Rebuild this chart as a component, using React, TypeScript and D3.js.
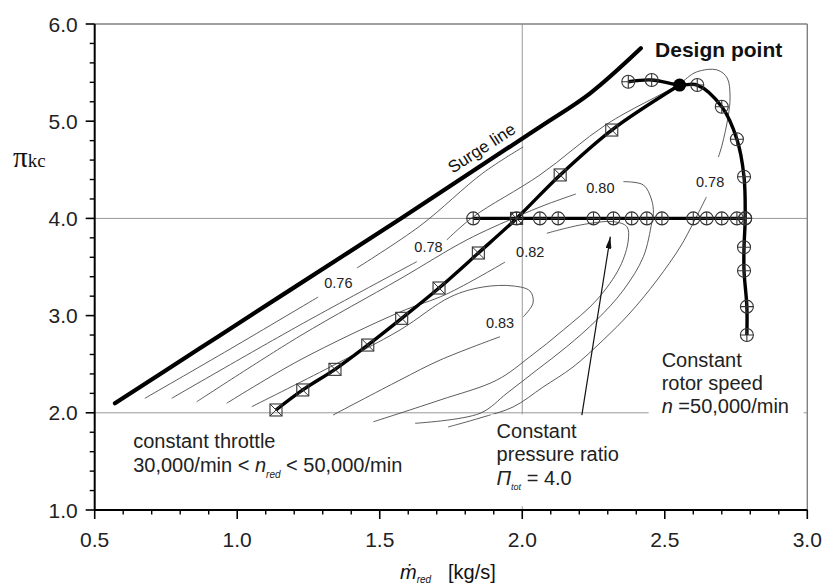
import React from "react";
import * as d3 from "d3";

type P = [number, number];

// ---------- axes ----------
const xTickValues = [0.5, 1.0, 1.5, 2.0, 2.5, 3.0];
const xTickLabels = ["0.5", "1.0", "1.5", "2.0", "2.5", "3.0"];
const yTickValues = [1.0, 2.0, 3.0, 4.0, 5.0, 6.0];
const yTickLabels = ["1.0", "2.0", "3.0", "4.0", "5.0", "6.0"];
const gridX = [2.0];
const gridY = [2.0, 4.0];

// ---------- characteristic lines ----------
const surgeLine: P[] = [
  [0.571, 2.098], [0.869, 2.663], [1.185, 3.262], [1.577, 4.004],
  [1.864, 4.56], [2.063, 4.943], [2.238, 5.287], [2.416, 5.75],
];
const throttlePoints: P[] = [
  [1.136, 2.029], [1.23, 2.235], [1.343, 2.447], [1.458, 2.697], [1.577, 2.972],
  [1.708, 3.284], [1.846, 3.644], [1.98, 4.0], [2.133, 4.447], [2.314, 4.909],
];
const designPoint: P = [2.552, 5.372];
const rotorBefore: P[] = [[2.372, 5.406], [2.454, 5.424]];
const rotorAfter: P[] = [
  [2.614, 5.372], [2.7, 5.149], [2.753, 4.814], [2.778, 4.429], [2.782, 4.0],
  [2.778, 3.703], [2.778, 3.462], [2.788, 3.092], [2.788, 2.8],
];
const pressureRatio = 4.0;
const pressureMassFlow = [
  1.828, 1.98, 2.062, 2.126, 2.25, 2.32, 2.384, 2.437, 2.49, 2.6, 2.647, 2.7, 2.753, 2.782,
];

// ---------- efficiency contours ----------
const eff76a: P[] = [[0.676, 2.149], [0.975, 2.656], [1.284, 3.191]];
const eff76b: P[] = [[1.42, 3.49], [1.641, 3.922], [1.862, 4.467], [2.003, 4.735]];
const eff78a: P[] = [[0.77, 2.149], [1.22, 2.903], [1.63, 3.555]];
const eff78b: P[] = [
  [1.735, 3.778], [1.827, 4.014], [2.062, 4.447], [2.296, 4.969], [2.545, 5.372],
  [2.611, 5.506], [2.684, 5.527], [2.719, 5.444], [2.729, 5.249], [2.722, 5.043],
  [2.701, 4.755], [2.688, 4.63],
];
const eff78c: P[] = [
  [2.646, 4.22], [2.6, 3.953], [2.554, 3.706], [2.473, 3.366], [2.378, 3.027],
  [2.284, 2.749], [2.178, 2.471], [2.073, 2.265], [1.968, 2.06], [1.852, 1.947], [1.74, 1.854],
];
const eff80a: P[] = [
  [0.858, 2.114], [1.22, 2.79], [1.571, 3.377], [1.805, 3.778], [1.981, 4.017],
  [2.08, 4.138], [2.188, 4.251],
];
const eff80b: P[] = [
  [2.355, 4.378], [2.425, 4.344], [2.454, 4.189], [2.46, 4.052], [2.454, 3.95],
  [2.425, 3.606], [2.355, 3.263], [2.261, 2.955], [2.156, 2.68], [2.051, 2.44],
  [1.946, 2.201], [1.852, 1.995], [1.624, 1.892],
];
const eff82a: P[] = [[0.963, 2.098], [1.22, 2.543], [1.571, 3.037], [1.735, 3.222], [1.94, 3.551]];
const eff82b: P[] = [
  [2.086, 3.847], [2.204, 3.932], [2.32, 3.966], [2.367, 3.915], [2.372, 3.778],
  [2.343, 3.503], [2.261, 3.16], [2.144, 2.852], [2.027, 2.577], [1.911, 2.337],
  [1.712, 2.132], [1.478, 1.908],
];
const eff83a: P[] = [
  [1.051, 2.063], [1.326, 2.471], [1.571, 2.852], [1.747, 3.191], [1.862, 3.294],
  [1.968, 3.305], [2.027, 3.253], [2.038, 3.13], [2.003, 2.986],
];
const eff83b: P[] = [[1.922, 2.783], [1.712, 2.543], [1.571, 2.337], [1.336, 1.977]];
const contours: P[][] = [
  eff76a, eff76b, eff78a, eff78b, eff78c, eff80a, eff80b, eff82a, eff82b, eff83a, eff83b,
];
const effLabelText = ["0.76", "0.78", "0.80", "0.82", "0.83", "0.78"];
const effLabelPos: P[] = [
  [1.355, 3.335], [1.671, 3.709], [2.274, 4.31], [2.028, 3.658], [1.922, 2.924], [2.659, 4.378],
];

// ---------- annotations ----------
const arrowTail: P = [2.209, 1.977];
const arrowTip: P = [2.309, 3.812];

const SANS = "'Liberation Sans', Arial, Helvetica, sans-serif";
const SERIF = "'Liberation Serif', 'Times New Roman', serif";

export default function App() {
  const x = d3.scaleLinear().domain([0.5, 3.0]).range([94.7, 807.3]);
  const y = d3.scaleLinear().domain([1.0, 6.0]).range([510, 24]);
  const smooth = d3
    .line<P>()
    .x((d) => x(d[0]))
    .y((d) => y(d[1]))
    .curve(d3.curveCatmullRom.alpha(0.5));
  const straight = d3
    .line<P>()
    .x((d) => x(d[0]))
    .y((d) => y(d[1]));

  const xMinor = d3.range(5, 31).map((i) => i / 10).filter((v) => !xTickValues.includes(v));
  const yMinor = d3.range(5, 31).filter((i) => i % 5 !== 0).map((i) => i / 5);

  const [x0, x1] = x.range();
  const [yb, yt] = y.range();

  const throttleLine = [...throttlePoints, designPoint];
  const rotorLine = [...rotorBefore, designPoint, ...rotorAfter];
  const rotorMarkers = [...rotorBefore, ...rotorAfter];
  const pressureLine: P[] = [
    [d3.min(pressureMassFlow)!, pressureRatio],
    [d3.max(pressureMassFlow)!, pressureRatio],
  ];

  const plus = (px: number, py: number, k: string) => (
    <g key={k} transform={`translate(${px},${py})`}>
      <circle r={6.5} fill="none" stroke="#333" strokeWidth={1.1} />
      <path d="M-6.5,0H6.5M0,-6.5V6.5" stroke="#333" strokeWidth={1.1} />
    </g>
  );
  const boxX = (px: number, py: number, k: string) => (
    <g key={k} transform={`translate(${px},${py})`}>
      <rect x={-6} y={-6} width={12} height={12} fill="none" stroke="#333" strokeWidth={1.1} />
      <path d="M-6,-6L6,6M-6,6L6,-6" stroke="#333" strokeWidth={1} />
    </g>
  );

  const xMid = (x0 + x1) / 2;
  const rotorTx = x(2.489);
  const rotorTy = y(2.468);
  const presTx = x(1.91);
  const presTy = y(1.738);

  return (
    <svg
      width={825}
      height={588}
      viewBox="0 0 825 588"
      style={{ position: "absolute", left: 0, top: 0, background: "#fff" }}
    >
      <defs>
        <marker
          id="ah"
          viewBox="0 0 12 6"
          refX={12}
          refY={3}
          markerWidth={12}
          markerHeight={6}
          markerUnits="userSpaceOnUse"
          orient="auto"
        >
          <path d="M0,0L12,3L0,6Z" fill="#111" />
        </marker>
      </defs>
      <rect x={0} y={0} width={825} height={588} fill="#fff" />

      {/* grid */}
      {gridX.map((v) => (
        <line key={"gx" + v} x1={x(v)} x2={x(v)} y1={yb} y2={yt} stroke="#999" strokeWidth={1} />
      ))}
      {gridY.map((v) => (
        <line key={"gy" + v} x1={x0} x2={x1} y1={y(v)} y2={y(v)} stroke="#999" strokeWidth={1} />
      ))}
      {/* frame */}
      <line x1={x0} x2={x1} y1={yt} y2={yt} stroke="#808080" strokeWidth={1.6} />
      <line x1={x1} x2={x1} y1={yt} y2={yb} stroke="#808080" strokeWidth={1.4} />

      {/* efficiency contours */}
      {contours.map((c, i) => (
        <path key={"c" + i} d={smooth(c)!} fill="none" stroke="#4a4a4a" strokeWidth={0.9} />
      ))}

      {/* text backgrounds */}
      <rect x={presTx - 6} y={y(2.0) + 1.5} width={136} height={92} fill="#fff" />
      <rect x={rotorTx - 13} y={rotorTy - 24} width={155} height={77} fill="#fff" />

      {/* thick lines */}
      <path d={smooth(surgeLine)!} fill="none" stroke="#000" strokeWidth={4.2} strokeLinecap="round" />
      <path d={smooth(throttleLine)!} fill="none" stroke="#000" strokeWidth={3.4} />
      <path d={smooth(rotorLine)!} fill="none" stroke="#000" strokeWidth={3.4} />
      <path d={straight(pressureLine)!} fill="none" stroke="#000" strokeWidth={3.2} />

      {/* markers */}
      {pressureMassFlow.map((v, i) => plus(x(v), y(pressureRatio), "p" + i))}
      {rotorMarkers.map((d, i) => plus(x(d[0]), y(d[1]), "r" + i))}
      {throttlePoints.map((d, i) => boxX(x(d[0]), y(d[1]), "t" + i))}
      <circle cx={x(designPoint[0])} cy={y(designPoint[1])} r={6.5} fill="#000" />

      {/* arrow */}
      <path
        d={straight([arrowTail, arrowTip])!}
        stroke="#111"
        strokeWidth={1.2}
        fill="none"
        markerEnd="url(#ah)"
      />

      {/* axes */}
      <line x1={x0} x2={x1} y1={yb} y2={yb} stroke="#000" strokeWidth={2} />
      <line x1={x0} x2={x0} y1={yt} y2={yb} stroke="#000" strokeWidth={2} />
      {xTickValues.map((v) => (
        <line key={"xt" + v} x1={x(v)} x2={x(v)} y1={yb} y2={yb + 9} stroke="#000" strokeWidth={1.6} />
      ))}
      {xMinor.map((v) => (
        <line key={"xm" + v} x1={x(v)} x2={x(v)} y1={yb} y2={yb + 4.5} stroke="#000" strokeWidth={1.4} />
      ))}
      {yTickValues.map((v) => (
        <line key={"yt" + v} x1={x0 - 9} x2={x0} y1={y(v)} y2={y(v)} stroke="#000" strokeWidth={1.6} />
      ))}
      {yMinor.map((v) => (
        <line key={"ym" + v} x1={x0 - 5} x2={x0} y1={y(v)} y2={y(v)} stroke="#000" strokeWidth={1.4} />
      ))}
      {xTickValues.map((v, i) => (
        <text
          key={"xl" + v}
          x={x(v)}
          y={yb + 37}
          textAnchor="middle"
          fontFamily={SANS}
          fontSize={21}
          fill="#222"
        >
          {xTickLabels[i]}
        </text>
      ))}
      {yTickValues.map((v, i) => (
        <text
          key={"yl" + v}
          x={x0 - 17}
          y={y(v) + 7.5}
          textAnchor="end"
          fontFamily={SANS}
          fontSize={21}
          fill="#222"
        >
          {yTickLabels[i]}
        </text>
      ))}

      {/* axis titles */}
      <text x={13} y={166.5} fontFamily={SERIF} fill="#111">
        <tspan fontSize={29}>π</tspan>
        <tspan fontSize={19}>kc</tspan>
      </text>
      <text x={xMid - 51} y={579} fontFamily={SANS} fill="#111" fontSize={20}>
        <tspan fontStyle="italic">ṁ</tspan>
        <tspan fontStyle="italic" fontSize={10} dy={4}>
          red
        </tspan>
        <tspan x={xMid - 3} dy={-4}>
          [kg/s]
        </tspan>
      </text>

      {/* contour labels */}
      {effLabelPos.map((p, i) => (
        <text
          key={"el" + i}
          x={x(p[0])}
          y={y(p[1])}
          textAnchor="middle"
          dominantBaseline="central"
          fontFamily={SANS}
          fontSize={14.5}
          fill="#222"
        >
          {effLabelText[i]}
        </text>
      ))}

      {/* annotations */}
      <text
        x={x(1.858)}
        y={y(4.721)}
        textAnchor="middle"
        dominantBaseline="central"
        fontFamily={SANS}
        fontSize={17}
        fill="#111"
        transform={`rotate(-33 ${x(1.858)} ${y(4.721)})`}
      >
        Surge line
      </text>
      <text x={x(2.466)} y={y(5.657)} fontFamily={SANS} fontSize={21} fontWeight="bold" fill="#111">
        Design point
      </text>
      <text x={x(0.635)} y={y(1.635)} fontFamily={SANS} fontSize={20} fill="#222">
        <tspan>constant throttle</tspan>
        <tspan x={x(0.635)} dy={24}>
          30,000/min &lt;{" "}
        </tspan>
        <tspan fontStyle="italic">n</tspan>
        <tspan fontStyle="italic" fontSize={10} dy={6}>
          red
        </tspan>
        <tspan dy={-6}> &lt; 50,000/min</tspan>
      </text>
      <text x={presTx} y={presTy} fontFamily={SANS} fontSize={20} fill="#222">
        <tspan>Constant</tspan>
        <tspan x={presTx} dy={22.5}>
          pressure ratio
        </tspan>
        <tspan x={presTx} dy={24.5} fontStyle="italic">
          Π
        </tspan>
        <tspan fontStyle="italic" fontSize={9} dy={5}>
          tot
        </tspan>
        <tspan dy={-5}> = 4.0</tspan>
      </text>
      <text x={rotorTx} y={rotorTy} fontFamily={SANS} fontSize={20} fill="#222">
        <tspan>Constant</tspan>
        <tspan x={rotorTx} dy={23}>
          rotor speed
        </tspan>
        <tspan x={rotorTx} dy={23} fontStyle="italic">
          n
        </tspan>
        <tspan> =50,000/min</tspan>
      </text>
    </svg>
  );
}
